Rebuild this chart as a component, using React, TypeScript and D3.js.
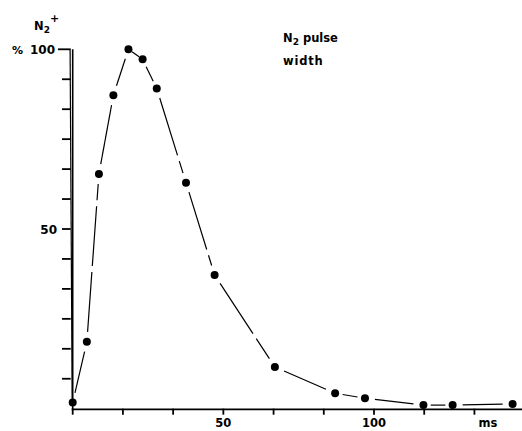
import React from 'react';
import * as d3 from 'd3';

// pulse width curve
const timeMs = [0, 4.7, 8.7, 13.5, 18.5, 23.2, 27.9, 37.6, 47.1, 67.1, 87.1, 97, 116.4, 126.1, 146];
const ionPct = [1.7, 18.6, 65.3, 87.2, 100, 97.2, 89.1, 62.9, 37.2, 11.6, 4.3, 2.9, 1.0, 1.0, 1.3];
const xTickValues = d3.range(0, 9).map(i => (i * 50) / 3);
const yTickValues = d3.range(1, 13).map(i => (i * 100) / 12);
const xLabels = [50, 100];
const yLabels = [50];

const W = 522;
const H = 431;
const font = '"DejaVu Sans", Arial, sans-serif';

const App: React.FC = () => {
    const x = d3.scaleLinear().domain([0, 150]).range([72.7, 72.7 + 150 * 3.013]);
    const y = d3.scaleLinear().domain([0, 100]).range([408.7, 49.3]);

    const pts = timeMs.map((t, i) => [x(t), y(ionPct[i])] as [number, number]);
    const gap = 10;
    const segs = pts.slice(1).map((p, i) => {
        const a = pts[i];
        const dx = p[0] - a[0], dy = p[1] - a[1];
        const len = Math.hypot(dx, dy);
        const g = Math.min(gap, len / 4);
        const ux = dx / len, uy = dy / len;
        return {x1: a[0] + ux * g, y1: a[1] + uy * g, x2: p[0] - ux * g, y2: p[1] - uy * g, len};
    });

    const x0 = x(0);
    const y0 = y(0);

    return (
        <svg width={W} height={H} style={{position: 'absolute', left: 0, top: 0, background: '#fff'}}
             fontFamily={font} fontWeight="bold">
            {/* axes */}
            <line x1={x0} y1={y(100)} x2={x0} y2={y0 + 1} stroke="#000" strokeWidth={1.6}/>
            <line x1={x0 - 2.6} y1={y(100)} x2={x0 - 0.5} y2={y0 - 4} stroke="#000" strokeWidth={1.2}/>
            <line x1={x0 - 1} y1={y0 + 0.6} x2={W} y2={y0 + 0.6} stroke="#000" strokeWidth={1.8}/>
            {yTickValues.map(v => (
                <line key={'yt' + v} x1={v === 100 ? 58 : 62} x2={x0 - 2} y1={y(v)} y2={y(v)}
                      stroke="#000" strokeWidth={1.8}/>
            ))}
            {xTickValues.map(v => (
                <line key={'xt' + v} x1={x(v)} x2={x(v)} y1={y0} y2={y0 + 6} stroke="#000" strokeWidth={1.8}/>
            ))}
            {xLabels.map(v => (
                <text key={'xl' + v} x={x(v)} y={427} textAnchor="middle" fontSize={11.5}>{v}</text>
            ))}
            <text x={488} y={427} textAnchor="middle" fontSize={11.5}>ms</text>
            {yLabels.map(v => (
                <text key={'yl' + v} x={57} y={y(v) + 4.5} textAnchor="end" fontSize={12}>{v}</text>
            ))}
            <text x={55} y={y(100) + 4.5} textAnchor="end" fontSize={12}>100</text>
            <text x={12} y={y(100) + 4.5} fontSize={11}>%</text>
            <text x={34} y={30} fontSize={11.5}>N<tspan fontSize={9} dy={3}>2</tspan>
                <tspan fontSize={11} dy={-11}>+</tspan></text>
            <text x={283} y={42} fontSize={11.5}>N<tspan fontSize={9} dy={3}>2</tspan>
                <tspan dy={-3}> pulse</tspan></text>
            <text x={283} y={65} fontSize={11.5} letterSpacing={0.8}>width</text>

            {/* curve */}
            {segs.map((s, i) => (
                <line key={'s' + i} x1={s.x1} y1={s.y1} x2={s.x2} y2={s.y2} stroke="#000" strokeWidth={1.2}
                      strokeDasharray={s.len > 60 ? '60 6' : undefined}/>
            ))}
            {pts.map((p, i) => (
                <circle key={'p' + i} cx={p[0]} cy={p[1]} r={4} fill="#000"/>
            ))}
        </svg>
    );
};

export default App;
